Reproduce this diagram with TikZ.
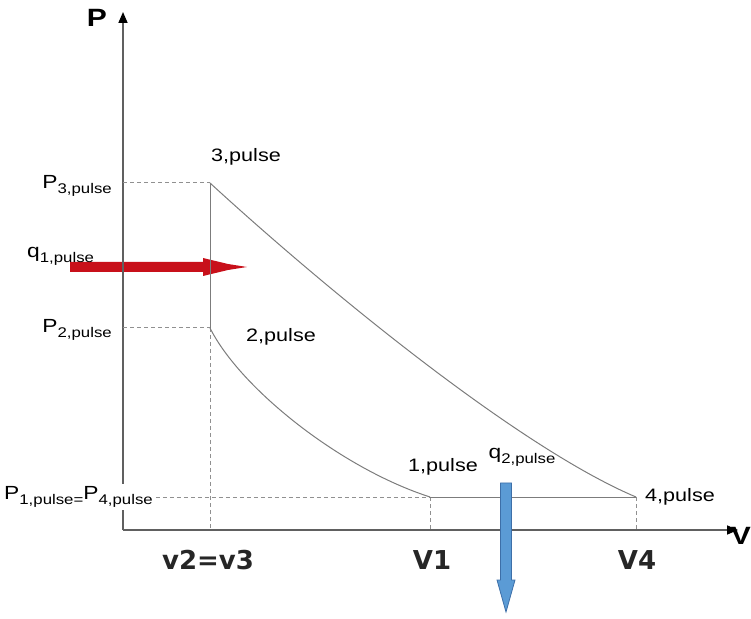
\documentclass[tikz,border=0pt]{standalone}
\usepackage{fontspec}
\setmainfont{Liberation Sans}[FakeStretch=1.2]
\newfontfamily\tickfont{DejaVu Sans}
\usetikzlibrary{arrows.meta,positioning}
\definecolor{cycGray}{HTML}{7C7C7C}
\definecolor{axisGray}{HTML}{606060}
\definecolor{heatRed}{HTML}{C8101A}
\definecolor{heatBlue}{HTML}{5B9BD5}
\definecolor{heatBlueDark}{HTML}{3D6FA8}
\newcommand{\lowidx}[1]{\raisebox{-0.5ex}{\fontsize{14}{14}\selectfont #1}}

\begin{document}
\begin{tikzpicture}[x=1pt, y=1pt, >=Stealth,
  font=\fontsize{18}{18}\selectfont,
  axis/.style={axisGray, line width=1.6pt, -{Triangle[length=11pt,width=9pt,color=black]}},
  curve/.style={cycGray, line width=1pt},
  guide/.style={cycGray!85, line width=1pt, dash pattern=on 4pt off 3pt},
  lbl/.style={inner sep=0pt},
  plbl/.style={inner sep=0pt, font=\fontsize{19}{19}\selectfont},
  tick/.style={inner sep=0pt, font=\tickfont\bfseries\fontsize{26}{26}\selectfont, text=black!85},
  axlbl/.style={inner sep=0pt, font=\bfseries\fontsize{25}{25}\selectfont}]
\useasboundingbox (0,0) rectangle (751,618);
% heat in (drawn first, lines show through)
\coordinate (q1s) at (70,351);
\fill[heatRed] (q1s) ++(0,5) -- ++(133,0) -- ++(0,4) -- ++(25,-6) -- ++(19,-3)
  -- ++(-19,-3) -- ++(-25,-6) -- ++(0,4) -- ++(-133,0) -- cycle;
% axes
\coordinate (O) at (123,88);
\coordinate (Ptop) at (123,606);
\coordinate (Vend) at (738,88);
\draw[axis] (O) -- (Ptop);
\draw[axis] (O) -- (Vend);
\node[axlbl] (plab) at (97,600) {P};
\node[axlbl, anchor=east] (vlab) at (751,82) {V};
% state points
\coordinate (s3) at (210,435);
\coordinate (s2) at (210,290);
\coordinate (s1) at (430,121);
\coordinate (s4) at (636,121);
% projections on the axes
\coordinate (y3) at (123,435);
\coordinate (y2) at (123,290);
\coordinate (x23) at (210,88);
\coordinate (x1) at (430,88);
\coordinate (x4) at (636,88);
% pressure labels
\node[plbl, anchor=east] (p3lab) at (112,432) {P\lowidx{3,pulse}};
\node[plbl, anchor=east] (p2lab) at (112,288) {P\lowidx{2,pulse}};
\node[plbl, anchor=west, fill=white, inner sep=3pt] (p14lab) at (1,121)
  {P\lowidx{1,pulse=}P\lowidx{4,pulse}};
\node[plbl, anchor=west] (q1lab) at (27,362) {q\lowidx{1,pulse}};
% guide lines
\draw[guide] (y3) -- (s3);
\draw[guide] (y2) -- (s2);
\draw[guide] (s2) -- (x23);
\draw[guide] (p14lab.east) -- (s1);
\draw[guide] (s1) -- (x1);
\draw[guide] (s4) -- (x4);
% cycle
\draw[curve] (s3) -- (s2);
\draw[curve] (s2) .. controls (240,230) and (340,150) .. (s1);
\draw[curve] (s1) -- (s4);
\draw[curve] (s3) .. controls (330,325) and (520,170) .. (s4);
% state labels
\node[lbl] (l3) at (246,461) {3,pulse};
\node[lbl] (l2) at (281,281) {2,pulse};
\node[lbl] (l1) at (443,151) {1,pulse};
\node[lbl, right=9pt of s4] (l4) {4,pulse};
\node[plbl] (q2lab) at (522,161) {q\lowidx{2,pulse}};
% heat out
\coordinate (q2s) at (506,135);
\filldraw[fill=heatBlue, draw=heatBlueDark, line width=0.8pt] (q2s) ++(-5.5,0)
  -- ++(11,0) -- ++(0,-97) -- ++(3.5,0) -- ++(-9,-32) -- ++(-9,32) -- ++(3.5,0) -- cycle;
% volume ticks
\node[tick] (v23) at (208,58) {v2=v3};
\node[tick] (v1) at (432,58) {V1};
\node[tick] (v4) at (637,58) {V4};
\end{tikzpicture}
\end{document}
